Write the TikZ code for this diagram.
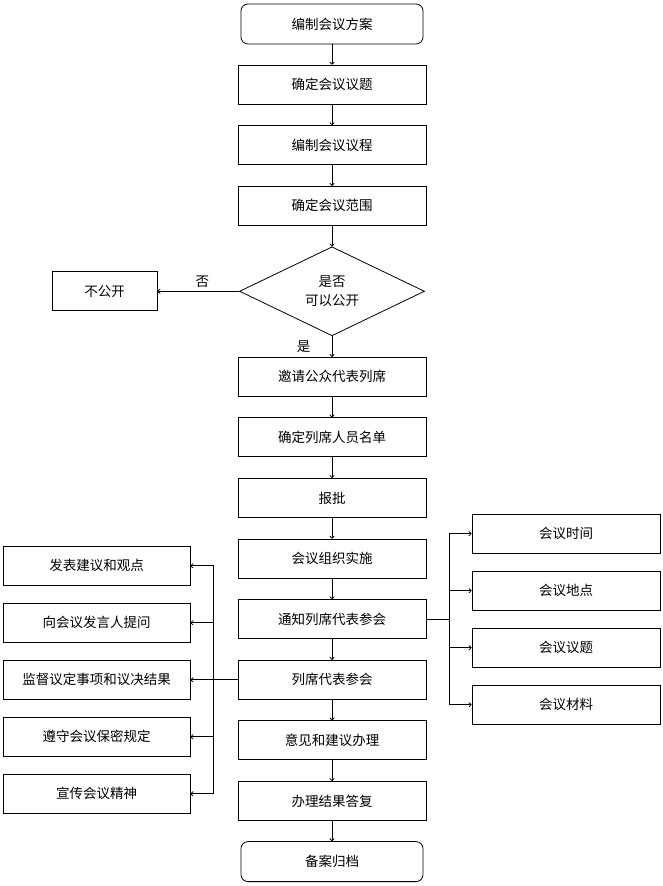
\documentclass[tikz,border=0pt]{standalone}
\usepackage{fontspec}
\setmainfont{Noto Sans CJK SC}
\usetikzlibrary{positioning, shapes.geometric, arrows.meta}

\begin{document}
\begin{tikzpicture} [node distance = 60.6pt, on grid, font = \fontsize{13.5}{18.5}\selectfont,
    box/.style = {draw, line width = 0.8pt, minimum width = 188pt, minimum height = 39pt, inner sep = 0pt},
    ends/.style = {box, rounded corners = 7pt, minimum width = 182pt, minimum height = 40pt},
    side/.style = {box, minimum width = 187pt},
    arr/.style = {-{To[length = 3pt, width = 5pt]}, line width = 0.8pt}]
\useasboundingbox (0,0) rectangle (663pt,886pt);
\node (plan) [ends] at (332pt,862pt) {编制会议方案};
\node (topic) [box, below = of plan] {确定会议议题};
\node (agenda) [box, below = of topic] {编制会议议程};
\node (scope) [box, below = of agenda] {确定会议范围};
\node (open) [draw, diamond, line width = 0.8pt, minimum width = 185pt, minimum height = 89pt,
    inner sep = 0pt, align = center, below = 85.5pt of scope] {是否\\可以公开};
\node (closed) [box, minimum width = 105pt, left = 227.5pt of open] {不公开};
\node (invite) [box, below = 85.5pt of open] {邀请公众代表列席};
\node (list) [box, below = of invite] {确定列席人员名单};
\node (approve) [box, below = of list] {报批};
\node (organize) [box, below = of approve] {会议组织实施};
\node (notify) [box, below = of organize] {通知列席代表参会};
\node (attend) [box, below = of notify] {列席代表参会};
\node (handle) [box, below = of attend] {意见和建议办理};
\node (reply) [box, below = of handle] {办理结果答复};
\node (archive) [ends, below = of reply] {备案归档};
\node (r1) [box, right = 234pt of notify, yshift = 85.5pt] {会议时间};
\node (r2) [box, right = 234pt of notify, yshift = 28.5pt] {会议地点};
\node (r3) [box, right = 234pt of notify, yshift = -28.5pt] {会议议题};
\node (r4) [box, right = 234pt of notify, yshift = -85.5pt] {会议材料};
\node (l1) [side, left = 235.5pt of attend, yshift = 114pt] {发表建议和观点};
\node (l2) [side, left = 235.5pt of attend, yshift = 57pt] {向会议发言人提问};
\node (l3) [side, left = 235.5pt of attend] {监督议定事项和议决结果};
\node (l4) [side, left = 235.5pt of attend, yshift = -57pt] {遵守会议保密规定};
\node (l5) [side, left = 235.5pt of attend, yshift = -114pt] {宣传会议精神};
\path [arr]
    (plan) edge (topic)
    (topic) edge (agenda)
    (agenda) edge (scope)
    (scope) edge (open)
    (open) edge node [above, xshift = 4pt] {否} (closed)
    (open) edge node [left = 18pt] {是} (invite)
    (invite) edge (list)
    (list) edge (approve)
    (approve) edge (organize)
    (organize) edge (notify)
    (notify) edge (attend)
    (attend) edge (handle)
    (handle) edge (reply)
    (reply) edge (archive)
    (attend) edge (l3);
\draw [line width = 0.8pt] (notify.east) -- ++(23pt,0) coordinate (rj);
\draw [line width = 0.8pt] (attend.west) -- ++(-24pt,0) coordinate (lj);
\foreach \n in {r1, r2, r3, r4}
    \draw [arr] (rj) |- (\n);
\foreach \n in {l1, l2, l4, l5}
    \draw [arr] (lj) |- (\n);
\end{tikzpicture}
\end{document}
